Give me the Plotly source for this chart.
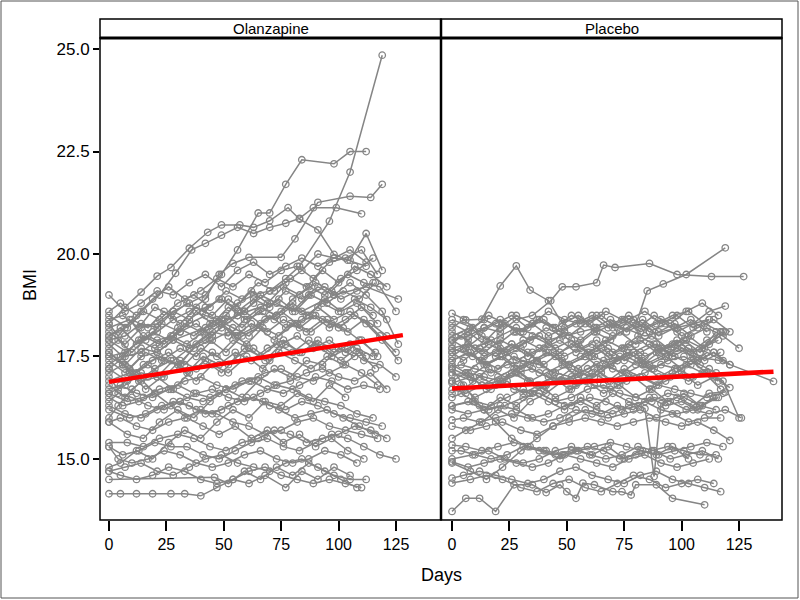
import plotly.graph_objects as go
from plotly.subplots import make_subplots

# ---------------- visit schedules (days) ----------------
SA = [0, 7, 14, 21, 28, 35, 42, 49, 56, 63, 70, 77, 84, 91, 98, 105, 112, 119, 126]
SB = [0, 5, 12, 19, 26, 33, 40, 47, 54, 61, 68, 75, 82, 89, 96, 103, 110, 117]
SC = [0, 8, 15, 22, 30, 37, 44, 51, 58, 65, 72, 79, 86, 93, 100, 107, 114, 121]
SD = [0, 6, 13, 20, 27, 34, 41, 48, 55, 62, 69, 76, 83, 90, 97, 104, 111, 118, 125]
SE = [0, 4, 10, 17, 24, 31, 38, 45, 52, 59, 66, 73, 80, 87, 94, 101, 108, 115]
SF = [0, 7, 14, 21, 28, 42, 56, 70, 84, 98, 112, 126]
SG = [0, 9, 16, 23, 31, 38, 45, 52, 60, 67, 74, 81, 88, 95, 102, 109, 116]

# ---------------- Olanzapine subjects ----------------
olz_days = [
    [0, 7, 14, 21, 28, 35, 42, 49, 56, 63, 70, 77, 83, 96, 105, 119],
    [0, 7, 14, 21, 28, 35, 42, 49, 56, 65, 70, 77, 84, 98, 105, 112],
    [0, 7, 14, 21, 27, 35, 43, 49, 57, 63, 70, 78, 83, 91, 98, 104, 112],
    [0, 7, 14, 22, 29, 36, 42, 49, 56, 63, 70, 77, 83, 89, 99, 110],
    [0, 7, 14, 21, 28, 35, 42, 48, 54, 61, 75, 81, 91, 105, 114, 119],
    SA, SA, SB, SC, SD, SE, SG, SA, SB, SC, SD, SE, SF, SG, SA, SB, SC,
    SD, SE, SG, SA, SB, SC, SD, SE, SA, SG, SB, SC, SD, SE, SA, SB,
    [0, 46, 52, 59, 66, 73, 80, 87, 94, 101, 108],
    [0, 5, 12, 19, 27, 33, 40, 47, 54, 61, 68, 77, 84, 91, 98, 105],
    SC, SD, SE, SB,
]
olz_bmi = [
    [16.6, 16.8, 17.1, 17.0, 17.4, 17.7, 17.9, 18.2, 18.5, 18.8, 19.1, 19.4, 19.7, 20.8, 22.0, 24.85],
    [17.9, 18.0, 18.3, 18.2, 18.6, 18.8, 19.0, 19.5, 20.1, 21.0, 21.0, 21.7, 22.3, 22.2, 22.5, 22.5],
    [18.3, 18.7, 19.07, 19.46, 19.67, 20.14, 20.53, 20.71, 20.71, 20.65, 20.81, 21.13, 20.85, 20.59, 19.99, 19.85, 19.7],
    [18.0, 18.2, 18.6, 19.0, 19.53, 20.1, 20.26, 20.46, 20.65, 20.5, 20.65, 20.75, 20.87, 21.13, 21.13, 20.98],
    [17.5, 17.6, 17.9, 18.1, 18.4, 18.6, 18.9, 19.5, 19.77, 19.92, 19.92, 20.37, 21.26, 21.41, 21.38, 21.7],
    [17.2, 17.5, 17.6, 17.9, 18.0, 18.3, 18.5, 18.4, 18.8, 19.0, 19.1, 19.3, 19.6, 20.0, 19.9, 19.85, 20.5, 19.6],
    [19.0, 18.6, 18.8, 19.1, 19.0, 19.3, 19.5, 19.2, 19.6, 19.8, 19.5, 19.7, 19.9, 19.7, 19.9, 20.1, 19.8],
    [18.6, 18.8, 18.5, 18.9, 19.2, 18.9, 19.1, 19.4, 19.2, 19.5, 19.3, 19.6, 19.7, 19.4, 19.8, 19.9, 20.1, 19.5],
    [18.5, 18.2, 18.6, 18.4, 18.8, 19.0, 18.7, 19.1, 18.9, 19.3, 19.1, 19.4, 19.2, 19.6, 19.3, 19.7, 19.5, 19.2],
    [18.4, 18.5, 18.2, 18.7, 18.5, 18.8, 18.6, 18.9, 18.7, 19.1, 18.8, 19.2, 19.0, 19.3, 19.1, 19.5, 19.3, 19.2, 18.6],
    [18.3, 18.0, 18.4, 18.2, 18.6, 18.3, 18.7, 18.5, 18.9, 18.6, 19.0, 18.8, 18.6, 19.0, 19.2, 18.9, 19.1, 19.3],
    [18.2, 18.4, 17.9, 18.3, 18.1, 18.6, 18.3, 18.7, 18.4, 18.6, 18.9, 18.6, 19.0, 18.8, 19.1, 18.9, 19.3],
    [18.1, 17.8, 18.2, 18.3, 18.6, 18.4, 18.7, 18.9, 18.6, 18.9, 18.7, 19.1, 18.9, 19.2, 19.0, 19.3, 19.0, 18.6, 17.8],
    [18.0, 18.2, 17.8, 18.1, 17.9, 18.3, 18.1, 18.4, 18.2, 18.0, 18.4, 18.6, 18.3, 18.5, 18.2, 18.4, 18.7, 18.3],
    [17.9, 17.6, 18.0, 17.8, 18.2, 18.0, 18.3, 18.5, 18.2, 18.6, 18.4, 18.7, 18.5, 18.8, 18.6, 18.9, 18.7, 18.4],
    [17.8, 17.5, 17.9, 17.7, 18.0, 17.8, 18.1, 18.3, 18.0, 18.3, 18.1, 18.4, 18.2, 18.5, 18.3, 18.1, 18.4, 18.0, 17.6],
    [17.7, 17.9, 17.6, 18.0, 17.8, 18.1, 18.3, 18.0, 18.4, 18.6, 18.3, 18.5, 18.8, 18.5, 18.9, 18.6, 18.8, 18.5],
    [17.6, 17.3, 17.7, 17.6, 17.9, 18.2, 18.5, 18.8, 18.6, 19.0, 19.2, 18.9],
    [17.5, 17.2, 17.6, 17.4, 17.7, 17.5, 17.9, 18.1, 17.8, 18.2, 18.0, 18.3, 18.1, 18.4, 18.2, 17.9, 17.6],
    [17.4, 17.1, 17.5, 17.6, 17.9, 17.7, 18.0, 18.3, 18.0, 18.2, 18.5, 18.2, 18.4, 18.7, 18.4, 18.6, 18.3, 17.9, 17.4],
    [17.3, 17.5, 17.1, 17.4, 17.6, 17.3, 17.7, 17.5, 17.9, 17.7, 17.4, 17.8, 18.0, 17.7, 17.9, 17.6, 17.9, 17.5],
    [17.2, 16.9, 17.3, 17.5, 17.3, 17.7, 17.9, 17.6, 18.0, 18.2, 17.9, 18.3, 18.1, 18.4, 18.2, 18.5, 18.3, 18.0],
    [17.1, 17.3, 16.9, 17.2, 17.4, 17.1, 17.5, 17.3, 17.6, 17.4, 17.7, 17.9, 17.6, 17.8, 17.5, 17.7, 17.4, 17.3, 17.0],
    [17.0, 16.7, 17.1, 17.3, 17.0, 17.4, 17.2, 17.6, 17.3, 17.7, 17.5, 17.8, 17.6, 17.9, 17.7, 17.4, 17.7, 17.5],
    [16.9, 17.1, 16.7, 17.0, 17.2, 16.9, 17.3, 17.1, 17.5, 17.2, 17.6, 17.4, 17.2, 17.5, 17.3, 17.6, 17.2],
    [16.8, 16.5, 16.9, 17.0, 16.7, 17.1, 17.4, 17.1, 17.5, 17.7, 17.4, 17.8, 17.6, 17.9, 17.6, 17.8, 17.5],
    [16.7, 16.8, 16.6, 16.5, 16.7, 16.9, 17.0, 16.8, 16.7, 16.9, 17.1, 17.2, 17.0, 16.9, 17.1, 17.3, 17.1, 16.8],
    [16.6, 16.4, 16.5, 16.7, 16.8, 16.6, 16.5, 16.7, 16.9, 17.0, 16.8, 16.9, 17.1, 17.2, 17.0, 16.9, 17.1, 16.7],
    [16.5, 16.3, 16.4, 16.6, 16.7, 16.5, 16.4, 16.6, 16.8, 16.9, 16.7, 16.6, 16.8, 17.0, 16.9, 16.7, 16.8, 16.7],
    [16.4, 16.6, 16.5, 16.3, 16.2, 16.4, 16.6, 16.7, 16.5, 16.4, 16.6, 16.8, 16.7, 16.5, 16.4, 16.3, 16.1, 16.0],
    [16.3, 16.1, 16.0, 16.2, 16.4, 16.3, 16.1, 16.2, 16.4, 16.5, 16.3, 16.2, 16.4, 16.3, 16.1, 16.0, 15.9, 15.8],
    [16.2, 16.0, 16.1, 16.3, 16.4, 16.2, 16.1, 16.3, 16.5, 16.4, 16.2, 16.0, 16.1, 16.2, 16.0, 15.8, 15.6],
    [15.9, 16.0, 15.8, 15.7, 15.9, 16.0, 16.2, 16.1, 15.9, 15.8, 15.6, 15.7, 15.9, 16.0, 15.8, 15.7, 15.6, 15.5],
    [15.4, 15.4, 15.3, 15.5, 15.6, 15.5, 15.3, 15.2, 15.4, 15.5, 15.7, 15.6, 15.4, 15.5, 15.6, 15.8, 15.7, 15.5],
    [15.3, 15.1, 15.2, 15.4, 15.3, 15.3, 15.1, 15.0, 15.2, 15.4, 15.5, 15.3, 15.2, 15.4, 15.6, 15.5, 15.3, 15.1, 15.0],
    [15.3, 15.0, 14.9, 15.0, 15.2, 15.1, 14.9, 14.8, 14.9, 15.1, 15.2, 15.0, 14.9, 15.0, 15.2, 15.1, 14.9],
    [14.7, 14.8, 14.9, 14.7, 14.6, 14.8, 15.0, 15.1, 14.9, 14.8, 14.7, 14.9, 15.0, 14.8, 14.6, 14.5, 14.5],
    [14.7, 14.6, 14.5, 14.6, 14.8, 14.7, 14.5, 14.4, 14.5, 14.7, 14.8, 14.6, 14.5, 14.4, 14.5, 14.4, 14.3],
    [14.5, 14.55, 14.4, 14.7, 14.5, 14.8, 14.6, 14.9, 14.7, 14.5, 14.3],
    [14.15, 14.15, 14.15, 14.15, 14.15, 14.15, 14.1, 14.3, 14.5, 14.4, 14.6, 14.3, 14.7, 14.5, 14.8, 14.6],
    [15.9, 15.6, 15.5, 15.9, 16.2, 16.0, 16.4, 16.7, 16.5, 16.9, 17.2, 17.0, 17.4, 17.3, 17.7, 17.5],
    [17.6, 17.3, 17.0, 16.6, 16.3, 16.0, 15.8, 15.6, 15.8, 15.5, 15.7, 15.4, 15.6, 15.3, 15.5, 15.2, 15.0],
    [16.0, 16.3, 16.7, 17.0, 17.4, 17.3, 17.8, 18.1, 18.0, 18.4, 18.7, 18.5, 18.9, 19.2, 19.0, 19.4, 19.6, 19.9],
    [14.8, 14.9, 15.2, 15.0, 15.4, 15.7, 15.5, 15.9, 16.2, 16.0, 16.4, 16.3, 16.6, 16.4, 16.8, 16.5],
]

# ---------------- Placebo subjects ----------------
pbo_days = [
    [0, 6, 13, 21, 28, 34, 42, 48, 55, 62, 69, 76, 83, 90, 97, 104, 111],
    [0, 7, 14, 21, 28, 35, 43, 48, 54, 63, 66, 71, 86, 98, 113, 127],
    [0, 7, 14, 21, 28, 35, 42, 49, 56, 63, 70, 80, 85, 92, 102, 119],
    [0, 7, 14, 21, 28, 35, 42, 49, 56, 63, 70, 77, 84, 88, 91, 98, 105, 112, 119],
    [0, 6, 12, 19, 27, 35, 41, 47, 50, 54, 57, 62, 70, 74, 78, 80, 89, 96, 110],
    [0, 7, 14, 21, 28, 35, 42, 49, 56, 63, 70, 77, 84, 91, 98, 105, 116, 140],
    SA, SB, SC, SD, SE, SG, SA, SB, SC, SD, SE, SG, SA, SB, SC, SD, SE, SG,
    SA, SB, SC, SD, SE, SG, SA, SB, SC,
    SF, SA, SB, SC, SD, SE, SG, SC, SB, SD,
]
pbo_bmi = [
    [18.55, 18.39, 18.41, 19.22, 19.71, 19.12, 18.86, 18.3, 18.5, 18.2, 18.4, 18.1, 18.3, 18.0, 18.2, 18.4, 18.1],
    [17.9, 18.0, 18.2, 18.1, 18.4, 18.5, 18.86, 19.2, 19.2, 19.3, 19.73, 19.67, 19.77, 19.5, 19.45, 19.45],
    [17.7, 17.8, 17.6, 17.9, 17.7, 18.0, 17.8, 18.1, 17.9, 18.2, 18.0, 18.27, 19.1, 19.27, 19.5, 20.15],
    [16.3, 16.4, 16.2, 16.5, 16.3, 16.6, 16.4, 16.2, 16.5, 16.3, 16.6, 16.4, 16.23, 14.57, 16.35, 16.5, 16.3, 16.6, 16.63],
    [13.72, 14.04, 14.04, 13.72, 14.37, 14.37, 14.18, 14.37, 14.2, 14.04, 14.41, 14.37, 14.2, 14.2, 14.12, 14.37, 14.37, 14.04, 13.88],
    [17.4, 17.6, 17.3, 17.5, 17.2, 17.4, 17.6, 17.3, 17.5, 17.7, 17.4, 17.6, 17.3, 17.5, 17.7, 17.5, 17.41, 16.89],
    [18.3, 18.1, 18.4, 18.2, 18.5, 18.3, 18.6, 18.4, 18.3, 18.5, 18.2, 18.4, 18.6, 18.3, 18.5, 18.2, 18.4],
    [18.2, 18.4, 18.1, 18.3, 18.5, 18.2, 18.4, 18.1, 18.3, 18.5, 18.2, 18.4, 18.1, 18.3, 18.5, 18.6, 18.3, 18.1],
    [18.0, 18.2, 17.9, 18.3, 18.1, 18.4, 18.2, 18.0, 18.3, 18.5, 18.2, 18.4, 18.1, 18.3, 18.0, 18.2, 18.4, 18.1],
    [17.9, 17.7, 18.0, 17.8, 18.1, 17.9, 18.2, 18.0, 17.8, 18.1, 17.9, 18.2, 18.4, 18.1, 18.3, 18.0, 18.2, 18.0, 17.7],
    [17.8, 18.0, 17.7, 17.9, 17.6, 17.8, 18.0, 17.7, 17.9, 17.6, 17.8, 18.1, 17.8, 18.0, 17.7, 17.9, 17.6, 18.1],
    [17.7, 17.5, 17.8, 17.6, 17.9, 17.7, 17.5, 17.8, 17.6, 17.9, 17.7, 18.0, 17.8, 17.6, 17.9, 17.7, 17.9],
    [17.6, 17.8, 17.5, 17.7, 17.4, 17.6, 17.8, 17.5, 17.7, 17.9, 17.6, 17.8, 17.5, 17.7, 17.9, 17.6, 17.8, 18.1],
    [17.6, 17.4, 17.7, 17.5, 17.8, 17.6, 17.3, 17.6, 17.8, 17.5, 17.7, 17.4, 17.6, 17.8, 17.5, 17.7, 17.4, 17.6],
    [17.4, 17.6, 17.3, 17.5, 17.7, 17.4, 17.6, 17.3, 17.5, 17.7, 17.4, 17.6, 17.8, 17.5, 17.7, 17.4, 17.6, 17.3],
    [17.3, 17.1, 17.4, 17.2, 17.5, 17.3, 17.6, 17.4, 17.2, 17.5, 17.3, 17.6, 17.4, 17.7, 17.5, 17.3, 17.6, 17.4],
    [17.25, 17.3, 17.2, 17.1, 17.3, 17.4, 17.3, 17.1, 17.0, 17.2, 17.4, 17.5, 17.3, 17.2, 17.4, 17.5, 17.3, 17.1],
    [17.1, 16.9, 17.2, 17.0, 17.3, 17.1, 16.9, 17.2, 17.0, 17.3, 17.1, 17.4, 17.2, 17.0, 17.3, 17.1, 16.9],
    [17.05, 17.1, 17.0, 16.9, 17.1, 17.2, 17.0, 16.9, 17.1, 17.3, 17.2, 17.0, 17.1, 17.3, 17.2, 17.0, 17.2],
    [16.9, 16.7, 17.0, 16.8, 17.1, 16.9, 16.7, 17.0, 16.8, 17.1, 16.9, 17.2, 17.0, 16.8, 17.1, 16.9, 17.1, 16.7],
    [16.85, 17.0, 16.7, 16.9, 17.1, 16.8, 17.0, 16.7, 16.9, 17.1, 16.8, 17.0, 16.7, 16.9, 17.1, 16.8, 17.0, 16.74],
    [16.7, 16.6, 16.8, 16.9, 16.7, 16.6, 16.8, 16.9, 17.0, 16.8, 16.7, 16.9, 17.0, 16.8, 16.7, 16.6, 16.5, 16.6],
    [16.5, 16.6, 16.4, 16.3, 16.5, 16.7, 16.6, 16.4, 16.5, 16.7, 16.8, 16.6, 16.5, 16.4, 16.6, 16.5, 16.3, 16.5],
    [16.3, 16.4, 16.2, 16.3, 16.5, 16.6, 16.4, 16.3, 16.5, 16.4, 16.2, 16.3, 16.5, 16.4, 16.2, 16.3, 16.5],
    [16.2, 16.1, 16.2, 16.3, 16.2, 16.0, 16.1, 16.3, 16.4, 16.2, 16.1, 16.3, 16.4, 16.2, 16.1, 16.2, 16.1, 16.2, 16.0],
    [15.95, 16.0, 15.9, 16.0, 16.1, 16.0, 15.9, 16.0, 16.2, 16.1, 16.0, 16.1, 16.2, 16.0, 16.1, 15.9, 16.0, 16.0],
    [15.8, 15.7, 15.8, 15.9, 15.7, 15.6, 15.8, 15.9, 16.0, 15.9, 15.8, 15.9, 16.0, 15.9, 15.8, 15.9, 15.7, 15.45],
    [15.34, 15.3, 15.2, 15.3, 15.4, 15.3, 15.2, 15.1, 15.2, 15.3, 15.4, 15.3, 15.2, 15.1, 15.2, 15.3, 15.4, 15.3],
    [15.2, 15.2, 15.1, 15.0, 15.1, 15.3, 15.2, 15.1, 15.2, 15.3, 15.2, 15.0, 15.1, 15.2, 15.3, 15.2, 15.1, 15.1],
    [15.0, 15.1, 15.2, 15.0, 14.9, 15.0, 15.2, 15.3, 15.1, 15.0, 15.1, 15.3, 15.2, 15.0, 15.1, 15.2, 15.0],
    [14.93, 14.8, 14.9, 15.0, 14.9, 14.8, 14.9, 15.1, 15.0, 14.9, 14.8, 15.0, 15.1, 14.9, 14.8, 14.9, 15.0],
    [14.53, 14.6, 14.7, 14.6, 14.5, 14.4, 14.5, 14.7, 14.8, 14.6, 14.5, 14.4, 14.6, 14.7, 14.5, 14.4, 14.3, 14.2],
    [14.41, 14.5, 14.6, 14.5, 14.3, 14.2, 14.4, 14.5, 14.3, 14.2, 14.4, 14.6, 14.5, 14.3, 14.4, 14.5, 14.4],
    [17.9, 18.1, 17.8, 18.0, 18.2, 17.9, 18.1, 18.3, 18.0, 18.2, 18.4],
    [18.1, 17.9, 18.2, 18.4, 18.1, 18.3, 18.0, 18.2, 18.4, 18.1, 18.3, 18.5, 18.2, 18.4, 18.1, 18.3, 18.6, 18.73],
    [17.5, 17.7, 17.4, 17.6, 17.8, 17.5, 17.7, 17.9, 17.6, 17.8, 17.5, 17.7, 17.9, 17.6, 17.8, 18.0, 17.7, 18.1],
    [17.2, 17.0, 17.3, 17.5, 17.2, 17.4, 17.1, 17.3, 17.5, 17.2, 17.4, 17.6, 17.3, 17.5, 17.2, 17.4, 17.6, 17.3],
    [16.9, 17.1, 16.8, 17.0, 17.2, 16.9, 17.1, 17.3, 17.0, 17.2, 16.9, 17.1, 17.3, 17.0, 17.2, 17.4, 17.1, 16.9, 16.0],
    [16.6, 16.8, 16.5, 16.7, 16.9, 16.6, 16.8, 16.5, 16.7, 16.9, 16.6, 16.8, 16.5, 16.7, 16.4, 16.6, 16.3, 16.2],
    [18.4, 18.2, 18.5, 18.3, 18.1, 18.4, 18.2, 18.5, 18.3, 18.6, 18.4, 18.2, 18.5, 18.3, 18.6, 18.8, 18.5],
    [14.9, 14.7, 14.5, 14.8, 15.2, 15.5, 15.8, 16.0, 16.2, 16.1, 16.3, 16.2, 16.5, 16.3, 16.4, 16.2, 16.5],
    [17.2, 16.8, 16.3, 15.9, 15.5, 15.3, 15.2, 15.0, 15.2, 15.1, 15.3, 15.0, 15.2, 15.1, 15.3, 15.0],
    [15.5, 15.7, 15.9, 16.2, 16.0, 16.4, 16.6, 16.9, 17.1, 17.0, 17.3, 17.5, 17.3, 17.6, 17.8, 17.6, 17.9, 18.1],
]

# fitted mean lines (end points)
olz_fit_days = [0, 128]
olz_fit_bmi = [16.88, 18.02]
pbo_fit_days = [0, 140]
pbo_fit_bmi = [16.72, 17.13]

panel_titles = ["Olanzapine", "Placebo"]
y_ticks = [15.0, 17.5, 20.0, 22.5, 25.0]
x_ticks = [0, 25, 50, 75, 100, 125]

GRAY = "#858585"
FONT = "Liberation Sans, Arial, sans-serif"


def flatten(days_list, bmi_list):
    xs, ys = [], []
    for d, b in zip(days_list, bmi_list):
        n = len(b)
        xs += list(d[:n]) + [None]
        ys += list(b) + [None]
    return xs, ys


fig = make_subplots(rows=1, cols=2, shared_yaxes=True, horizontal_spacing=0)

for col, (dl, bl, fd, fb) in enumerate(
    [(olz_days, olz_bmi, olz_fit_days, olz_fit_bmi),
     (pbo_days, pbo_bmi, pbo_fit_days, pbo_fit_bmi)], start=1):
    xs, ys = flatten(dl, bl)
    fig.add_trace(go.Scatter(
        x=xs, y=ys, mode="lines+markers", connectgaps=False,
        line=dict(color=GRAY, width=1.5),
        marker=dict(symbol="circle-open", size=6.5, color=GRAY, line=dict(width=1.3, color=GRAY)),
        showlegend=False, hoverinfo="skip"), row=1, col=col)
    fig.add_trace(go.Scatter(
        x=fd, y=fb, mode="lines", line=dict(color="#ff0000", width=4.5),
        showlegend=False, hoverinfo="skip"), row=1, col=col)

fig.update_xaxes(range=[-3.9, 144.6], row=1, col=1)
fig.update_xaxes(range=[-4.8, 143.7], row=1, col=2)
fig.update_xaxes(tickvals=x_ticks, ticks="outside", ticklen=10, tickwidth=1.5,
                 tickcolor="black", showgrid=False, zeroline=False, showline=False,
                 tickfont=dict(family=FONT, size=16, color="black"))
fig.update_yaxes(range=[13.51, 25.27], tickvals=y_ticks,
                 ticktext=[f"{v:.1f}" for v in y_ticks],
                 ticks="outside", ticklen=6, tickwidth=1.5, tickcolor="black",
                 showgrid=False, zeroline=False, showline=False,
                 tickfont=dict(family=FONT, size=17, color="black"))
fig.update_yaxes(ticks="", row=1, col=2)

strip_h = 19 / 482
shapes = []
for xr, yr in [("x domain", "y domain"), ("x2 domain", "y2 domain")]:
    shapes.append(dict(type="rect", xref=xr, yref=yr, x0=0, x1=1, y0=0, y1=1,
                       line=dict(color="black", width=1.5)))
    shapes.append(dict(type="rect", xref=xr, yref=yr, x0=0, x1=1, y0=1, y1=1 + strip_h,
                       line=dict(color="black", width=1.5)))
    shapes.append(dict(type="line", xref=xr, yref=yr, x0=0, x1=1, y0=1, y1=1,
                       line=dict(color="black", width=3)))
shapes.append(dict(type="line", xref="paper", yref="paper", x0=0.5, x1=0.5,
                   y0=0, y1=1 + strip_h, line=dict(color="black", width=2.5)))
shapes.append(dict(type="rect", xref="paper", yref="paper",
                   x0=-99 / 682, x1=698 / 682, y0=-78 / 482, y1=519 / 482,
                   line=dict(color="#555555", width=1)))

annotations = []
for xr, title in [("x domain", panel_titles[0]), ("x2 domain", panel_titles[1])]:
    annotations.append(dict(text=title, xref=xr, yref="y domain", x=0.5,
                            y=1 + strip_h / 2, showarrow=False,
                            font=dict(family=FONT, size=15, color="black"),
                            xanchor="center", yanchor="middle"))
annotations.append(dict(text="Days", xref="paper", yref="paper", x=0.5, y=-55 / 482,
                        showarrow=False, font=dict(family=FONT, size=18, color="black"),
                        xanchor="center", yanchor="middle"))
annotations.append(dict(text="BMI", xref="paper", yref="paper", x=-70 / 682, y=235 / 482,
                        showarrow=False, textangle=-90,
                        font=dict(family=FONT, size=18, color="black"),
                        xanchor="center", yanchor="middle"))

fig.update_layout(
    width=800, height=600,
    margin=dict(l=100, r=18, t=38, b=80),
    paper_bgcolor="white", plot_bgcolor="white",
    shapes=shapes, annotations=annotations,
    font=dict(family=FONT, color="black"),
)

fig.write_html("out.html", config={"displayModeBar": False},
               post_script="document.body.style.margin='0';")
